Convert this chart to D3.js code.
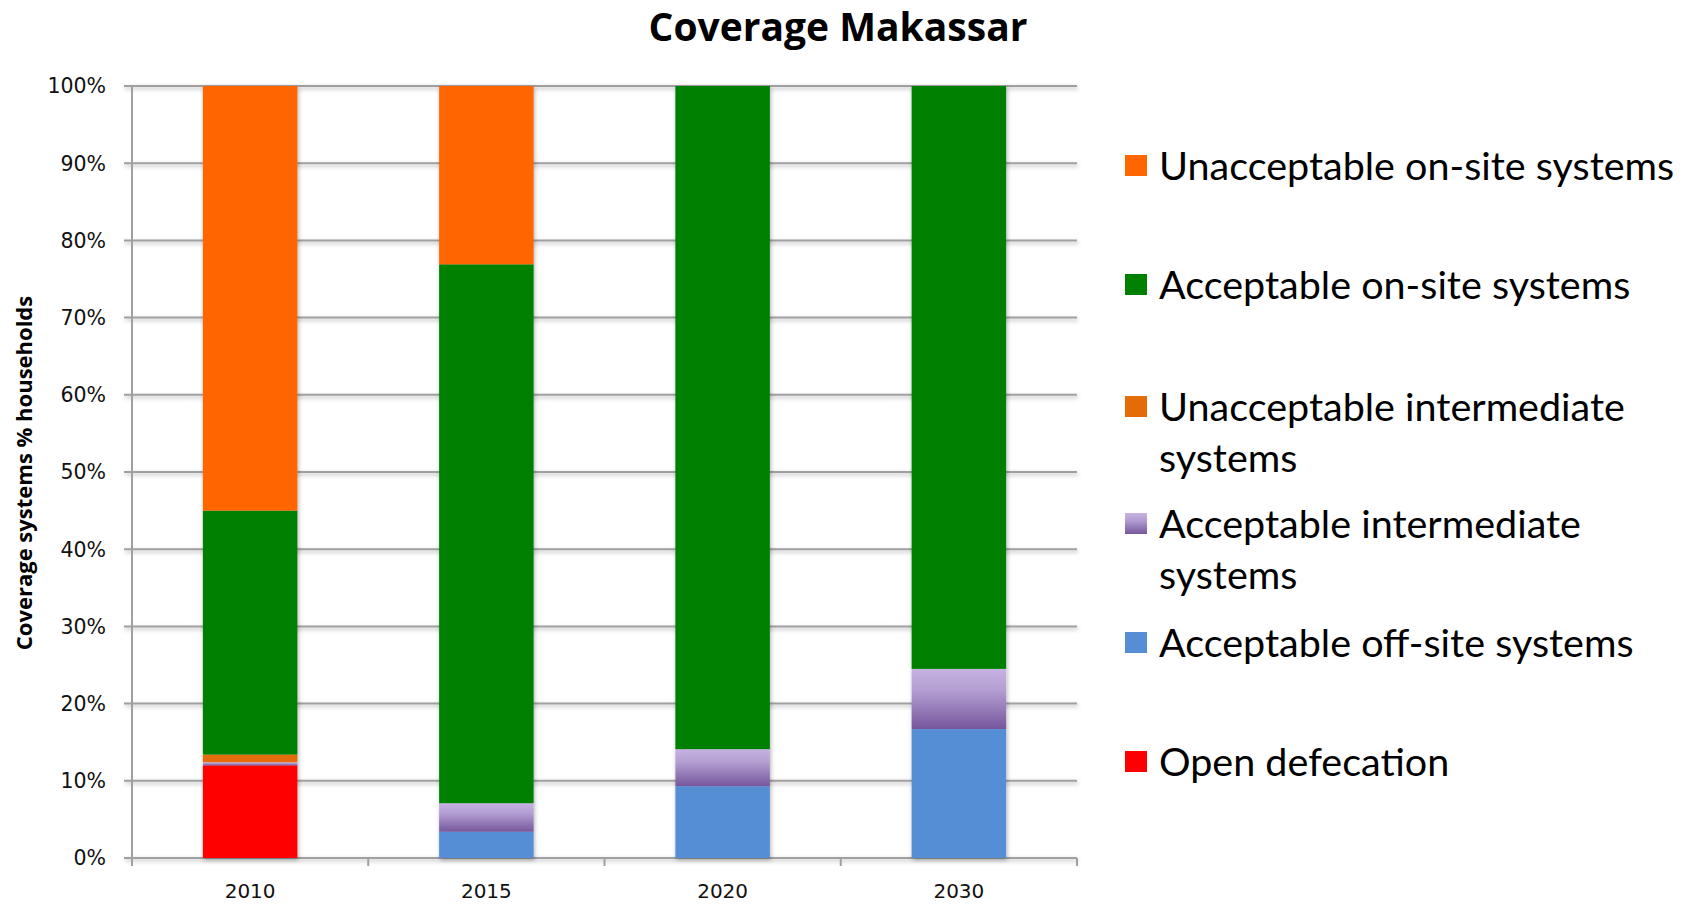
<!DOCTYPE html>
<html>
<head>
<meta charset="utf-8">
<script src="https://cdn.jsdelivr.net/npm/d3@7"></script>
<style>
  body { margin: 0; background: #fff; }
  svg { display: block; }
</style>
</head>
<body>
<div id="chart"></div>
<script>
// Data (percent of households)
const years = ["2010", "2015", "2020", "2030"];
const openDefecation = [12.0, 0, 0, 0];
const offSite = [0, 3.4, 9.3, 16.7];
const accIntermediate = [0.4, 3.7, 4.8, 7.8];
const unaccIntermediate = [1.0, 0, 0, 0];
const accOnSite = [31.6, 69.8, 85.9, 75.5];
const unaccOnSite = [55.0, 23.1, 0, 0];
const yTicks = [0, 10, 20, 30, 40, 50, 60, 70, 80, 90, 100];

const seriesNames = ["Open defecation", "Acceptable off-site systems", "Acceptable intermediate systems",
  "Unacceptable intermediate systems", "Acceptable on-site systems", "Unacceptable on-site systems"];
const seriesValues = [openDefecation, offSite, accIntermediate, unaccIntermediate, accOnSite, unaccOnSite];
const seriesColors = ["#ff0000", "#558ed5", "url(#purpleGrad)", "#e36c09", "#008000", "#ff6600"];

// Legend, top to bottom, with wrapped labels
const legendItems = [
  {s: 5, lines: ["Unacceptable on-site systems"]},
  {s: 4, lines: ["Acceptable on-site systems"]},
  {s: 3, lines: ["Unacceptable intermediate", "systems"]},
  {s: 2, lines: ["Acceptable intermediate", "systems"]},
  {s: 1, lines: ["Acceptable off-site systems"]},
  {s: 0, lines: ["Open defecation"]}
];

const W = 1694, H = 905;
const margin = {top: 86, left: 132, right: 617, bottom: 47};
const width = W - margin.left - margin.right,
      height = H - margin.top - margin.bottom;

const svg = d3.select("#chart").append("svg")
    .attr("width", W).attr("height", H);

const defs = svg.append("defs");
const grad = defs.append("linearGradient").attr("id", "purpleGrad")
    .attr("x1", 0).attr("y1", 0).attr("x2", 0).attr("y2", 1);
grad.append("stop").attr("offset", "0%").attr("stop-color", "#c6b3e2");
grad.append("stop").attr("offset", "35%").attr("stop-color", "#b39fd2");
grad.append("stop").attr("offset", "100%").attr("stop-color", "#76569c");

const shadow = defs.append("filter").attr("id", "shadow")
    .attr("filterUnits", "userSpaceOnUse")
    .attr("x", -200).attr("y", -200).attr("width", 2200).attr("height", 1400);
shadow.append("feDropShadow").attr("dx", 1).attr("dy", 2).attr("stdDeviation", 2)
    .attr("flood-color", "#000").attr("flood-opacity", 0.3);

const g = svg.append("g").attr("transform", `translate(${margin.left},${margin.top})`);

// Scales
const x = d3.scaleBand().domain(years).range([0, width]).paddingInner(0.6).paddingOuter(0.3);
const y = d3.scaleLinear().domain([0, 100]).range([height, 0]);

// Gridlines
g.append("g")
    .attr("filter", "url(#shadow)")
    .selectAll("line")
    .data(yTicks)
    .join("line")
    .attr("x1", -8).attr("x2", width)
    .attr("y1", d => y(d)).attr("y2", d => y(d))
    .attr("stroke", "#a0a0a0").attr("stroke-width", 2);

// Y axis line
g.append("line").attr("x1", 0).attr("x2", 0).attr("y1", 0).attr("y2", height)
    .attr("stroke", "#a0a0a0").attr("stroke-width", 2);

// Y tick labels
g.append("g").selectAll("text")
    .data(yTicks)
    .join("text")
    .attr("x", -26).attr("y", d => y(d))
    .attr("dy", "0.36em")
    .attr("text-anchor", "end")
    .attr("font-family", "DejaVu Sans")
    .attr("font-size", 20.5)
    .attr("fill", "#111")
    .text(d => d + "%");

// X category ticks at band boundaries
const step = x.step();
const edges = years.map(c => x(c) - (step - x.bandwidth()) / 2).concat([width]);
g.append("g").selectAll("line")
    .data(edges)
    .join("line")
    .attr("x1", d => d).attr("x2", d => d)
    .attr("y1", height).attr("y2", height + 8)
    .attr("stroke", "#a0a0a0").attr("stroke-width", 2);

g.append("g").selectAll("text")
    .data(years)
    .join("text")
    .attr("x", d => x(d) + x.bandwidth() / 2)
    .attr("y", height + 40)
    .attr("text-anchor", "middle")
    .attr("font-family", "DejaVu Sans")
    .attr("font-size", 20)
    .attr("fill", "#111")
    .text(d => d);

// Stacked bars
const rows = years.map((yr, i) => {
  const r = {year: yr};
  seriesValues.forEach((vals, s) => r[s] = vals[i]);
  return r;
});
const stack = d3.stack().keys(d3.range(seriesValues.length))(rows);

const barG = g.append("g").attr("filter", "url(#shadow)");
stack.forEach((layer, s) => {
  barG.append("g")
    .attr("fill", seriesColors[s])
    .selectAll("rect")
    .data(layer)
    .join("rect")
    .attr("x", d => x(d.data.year))
    .attr("width", x.bandwidth())
    .attr("y", d => y(d[1]))
    .attr("height", d => y(d[0]) - y(d[1]));
});

// Title
svg.append("text")
    .attr("x", 838).attr("y", 41)
    .attr("text-anchor", "middle")
    .attr("font-family", "Open Sans")
    .attr("font-weight", "bold")
    .attr("font-size", 39)
    .attr("fill", "#000")
    .text("Coverage Makassar");

// Y axis title
svg.append("text")
    .attr("transform", "translate(32, 473) rotate(-90)")
    .attr("text-anchor", "middle")
    .attr("font-family", "Open Sans")
    .attr("font-weight", "bold")
    .attr("font-size", 22)
    .attr("fill", "#000")
    .text("Coverage systems % households");

// Legend
const legendTop = [166, 285, 407, 524, 643, 762];
const legend = svg.append("g");
legendItems.forEach((item, i) => {
  legend.append("rect")
    .attr("x", 1125).attr("y", legendTop[i] - 11)
    .attr("width", 22).attr("height", 21)
    .attr("fill", seriesColors[item.s]);
  item.lines.forEach((ln, j) => {
    legend.append("text")
      .attr("x", 1159).attr("y", legendTop[i] + j * 51)
      .attr("dy", "0.35em")
      .attr("font-family", "Lato")
      .attr("font-size", 39.5)
      .attr("fill", "#000")
      .text(ln);
  });
});
</script>
</body>
</html>
